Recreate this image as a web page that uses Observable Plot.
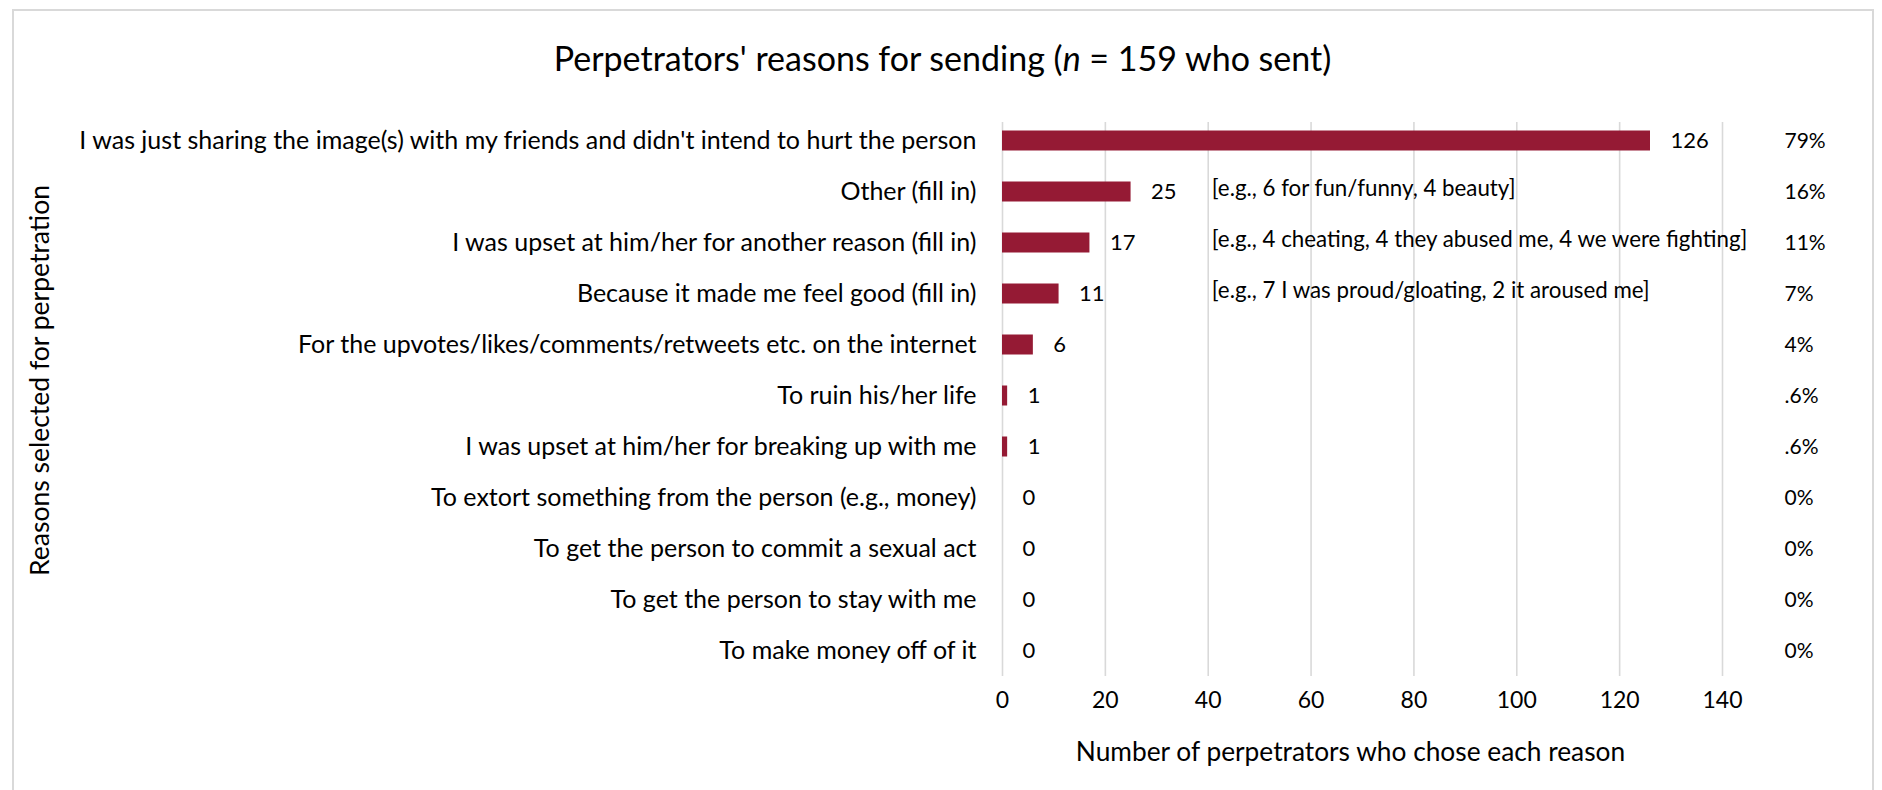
<!DOCTYPE html>
<html>
<head>
<meta charset="utf-8">
<script src="https://cdn.jsdelivr.net/npm/d3@7"></script>
<script src="https://cdn.jsdelivr.net/npm/@observablehq/plot@0.6"></script>
<style>
  html, body { margin: 0; padding: 0; background: #fff; overflow: hidden; }
  #wrap { position: relative; width: 1882px; height: 790px; }
  #border { position: absolute; left: 12px; top: 9px; width: 1862px; height: 900px;
            border: 2px solid #d9d9d9; box-sizing: border-box; pointer-events: none; }
  svg { display: block; }
</style>
</head>
<body>
<div id="wrap"><div id="border"></div></div>
<script>
const categories = [
  "I was just sharing the image(s) with my friends and didn't intend to hurt the person",
  "Other (fill in)",
  "I was upset at him/her for another reason (fill in)",
  "Because it made me feel good (fill in)",
  "For the upvotes/likes/comments/retweets etc. on the internet",
  "To ruin his/her life",
  "I was upset at him/her for breaking up with me",
  "To extort something from the person (e.g., money)",
  "To get the person to commit a sexual act",
  "To get the person to stay with me",
  "To make money off of it"
];
const counts = [126, 25, 17, 11, 6, 1, 1, 0, 0, 0, 0];
const percents = ["79%", "16%", "11%", "7%", "4%", ".6%", ".6%", "0%", "0%", "0%", "0%"];
const notes = [
  "",
  "[e.g., 6 for fun/funny, 4 beauty]",
  "[e.g., 4 cheating, 4 they abused me, 4 we were fighting]",
  "[e.g., 7 I was proud/gloating, 2 it aroused me]",
  "", "", "", "", "", "", ""
];
const xTicks = [0, 20, 40, 60, 80, 100, 120, 140];
const titleBefore = "Perpetrators' reasons for sending (";
const titleItalic = "n";
const titleAfter = " = 159 who sent)";
const xTitle = "Number of perpetrators who chose each reason";
const yTitle = "Reasons selected for perpetration";

const rows = categories.map((c, i) => ({cat: c, count: counts[i], pct: percents[i], note: notes[i]}));
const noteRows = rows.filter(d => d.note);
const NOTE_X = 40.7;
const BAR = "#951a34";
const FONT = "Lato, 'Open Sans', sans-serif";

const chart = Plot.plot({
  width: 1882,
  height: 790,
  marginLeft: 1002,
  marginRight: 160,
  marginTop: 114,
  marginBottom: 114,
  style: {fontFamily: FONT, color: "#000", background: "transparent"},
  x: {domain: [0, 140], axis: null},
  y: {domain: categories, padding: 0, axis: null},
  marks: [
    Plot.ruleX(xTicks, {stroke: "#d9d9d9", strokeWidth: 1.6, insetTop: 8}),
    Plot.barX(rows, {x: "count", y: "cat", fill: BAR, insetTop: 15.5, insetBottom: 15.5}),
    Plot.axisX(xTicks, {tickSize: 0, tickPadding: 15, fontSize: 23, label: null, fill: "#000"}),
    Plot.axisY(categories, {tickSize: 0, tickPadding: 26, fontSize: 25, label: null, fill: "#000", textOverflow: null, lineWidth: Infinity}),
    Plot.text(rows, {x: "count", y: "cat", text: d => String(d.count), dx: 20, textAnchor: "start", fontSize: 22, fill: "#000"}),
    Plot.text(noteRows, {x: () => NOTE_X, y: "cat", text: "note", textAnchor: "start", dy: -3, fontSize: 22.3, fill: "#000"}),
    Plot.text(rows, {y: "cat", text: "pct", frameAnchor: "right", dx: 62, textAnchor: "start", fontSize: 21, fill: "#000"}),
    Plot.text([titleBefore + titleItalic + titleAfter], {frameAnchor: "top-left", dx: -60, dy: -68, textAnchor: "middle", fontSize: 34, fill: "#000"}),
    Plot.text([xTitle], {frameAnchor: "bottom", dx: -12, dy: 84, fontSize: 26.3, fill: "#000"}),
    Plot.text([yTitle], {frameAnchor: "left", dx: -962, dy: -15, rotate: -90, textAnchor: "middle", fontSize: 26.5, fill: "#000"})
  ]
});

const fullTitle = titleBefore + titleItalic + titleAfter;
for (const t of chart.querySelectorAll("text")) {
  if (t.textContent === fullTitle) {
    t.textContent = "";
    const ns = "http://www.w3.org/2000/svg";
    const a = document.createElementNS(ns, "tspan"); a.textContent = titleBefore;
    const b = document.createElementNS(ns, "tspan"); b.textContent = titleItalic; b.setAttribute("font-style", "italic");
    const c = document.createElementNS(ns, "tspan"); c.textContent = titleAfter;
    t.append(a, b, c);
  }
}
document.getElementById("wrap").prepend(chart);
</script>
</body>
</html>
